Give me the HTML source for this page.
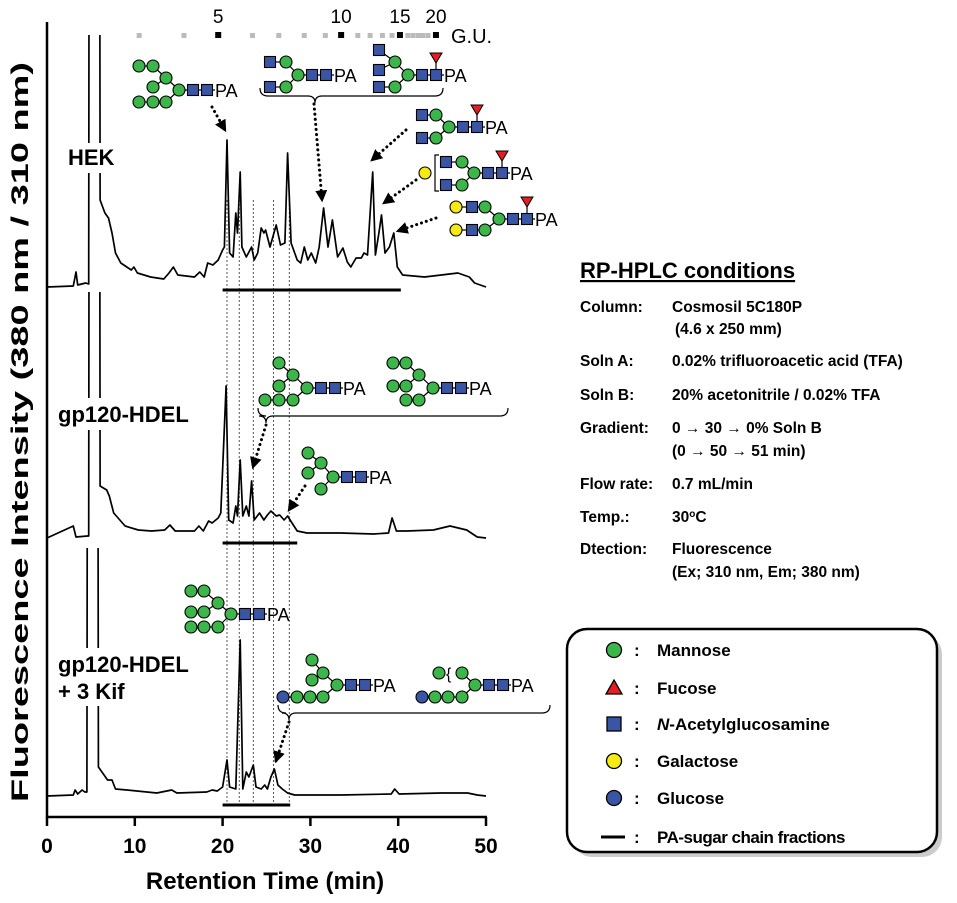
<!DOCTYPE html>
<html><head><meta charset="utf-8"><style>
body{margin:0;background:#fff}
svg{display:block;font-family:"Liberation Sans",sans-serif}
.b{font-weight:bold}
</style></head><body>
<svg id="fig" width="957" height="903" viewBox="0 0 957 903">
<defs>
<marker id="ah" viewBox="0 0 10 10" refX="8" refY="5" markerWidth="4" markerHeight="4" orient="auto"><path d="M0,0L10,5L0,10z" fill="#000"/></marker>
<clipPath id="c0"><rect x="40" y="35" width="460" height="270"/></clipPath>
<clipPath id="c1"><rect x="40" y="292" width="460" height="260"/></clipPath>
<clipPath id="c2"><rect x="40" y="548" width="460" height="260"/></clipPath>
</defs>
<g id="traces"></g>
<g id="glycans"></g>
<g id="axes">
<line x1="47" y1="22" x2="47" y2="818" stroke="#000" stroke-width="2.5"/>
<line x1="46" y1="817" x2="487" y2="817" stroke="#000" stroke-width="2.5"/>
</g>
<text class="b" font-size="24" transform="translate(28,432) rotate(-90)" text-anchor="middle" textLength="740" lengthAdjust="spacingAndGlyphs">Fluorescence Intensity (380 nm / 310 nm)</text>
<text class="b" font-size="24" x="265" y="889" text-anchor="middle">Retention Time (min)</text>
<text font-size="20" x="451" y="43">G.U.</text>
<g><rect x="66" y="143" width="60" height="30" fill="#fff"/><text class="b" font-size="22" x="68" y="165">HEK</text></g>
<g><rect x="56" y="398" width="150" height="32" fill="#fff"/><text class="b" font-size="22" x="58" y="422">gp120-HDEL</text></g>
<g><rect x="56" y="648" width="150" height="58" fill="#fff"/><text class="b" font-size="22" x="58" y="672">gp120-HDEL</text><text class="b" font-size="22" x="58" y="699">+ 3 Kif</text></g>
<g class="b" font-size="15.5">
<text x="580" y="278" font-size="22" text-decoration="underline">RP-HPLC conditions</text>
<text x="580" y="312">Column:</text><text x="672" y="312">Cosmosil 5C180P</text>
<text x="675" y="334">(4.6 x 250 mm)</text>
<text x="580" y="366">Soln A:</text><text x="672" y="366">0.02% trifluoroacetic acid (TFA)</text>
<text x="580" y="400">Soln B:</text><text x="672" y="400">20% acetonitrile / 0.02% TFA</text>
<text x="580" y="433">Gradient:</text><text x="672" y="433">0 → 30 → 0% Soln B</text>
<text x="672" y="456">(0 → 50 → 51 min)</text>
<text x="580" y="489">Flow rate:</text><text x="672" y="489">0.7 mL/min</text>
<text x="580" y="522">Temp.:</text><text x="672" y="522">30<tspan font-size="10" dy="-5">o</tspan><tspan dy="5">C</tspan></text>
<text x="580" y="554">Dtection:</text><text x="672" y="554">Fluorescence</text>
<text x="672" y="577">(Ex; 310 nm, Em; 380 nm)</text>
</g>
<g>
<rect x="572" y="634" width="370" height="223" rx="20" fill="#ccc"/>
<rect x="567" y="629" width="370" height="223" rx="20" fill="#fff" stroke="#000" stroke-width="2.5"/>
<g class="b" font-size="17">
<g><circle cx="614" cy="650" r="7.5" fill="#3cb54a" stroke="#000" stroke-width="1.3"/><text x="634" y="656">:</text><text x="657" y="656">Mannose</text></g>
<g><path d="M614,680L622,694L606,694z" fill="#e31e24" stroke="#000" stroke-width="1.3"/><text x="634" y="694">:</text><text x="657" y="694">Fucose</text></g>
<g><rect x="607" y="717" width="14" height="14" fill="#3a55a4" stroke="#000" stroke-width="1.3"/><text x="634" y="730">:</text><text x="657" y="730"><tspan font-style="italic">N</tspan>-Acetylglucosamine</text></g>
<g><circle cx="614" cy="761" r="7.5" fill="#f5ea14" stroke="#000" stroke-width="1.3"/><text x="634" y="767">:</text><text x="657" y="767">Galactose</text></g>
<g><circle cx="614" cy="798" r="7.5" fill="#3a55a4" stroke="#000" stroke-width="1.3"/><text x="634" y="804">:</text><text x="657" y="804">Glucose</text></g>
<g><line x1="601" y1="837" x2="625" y2="837" stroke="#000" stroke-width="3"/><text x="634" y="843">:</text><text x="657" y="843" letter-spacing="-0.5">PA-sugar chain fractions</text></g>
</g>
</g>
</svg>
<script>
// ---- data ----
const xTicks = [0, 10, 20, 30, 40, 50];
const hekT = [0,3.0,3.3,3.5,4.4,4.75,4.8,6.0,6.05,6.6,7.0,7.4,7.8,8.4,9.6,9.9,10.3,11.8,13.3,13.9,14.4,14.9,16.8,17.4,17.9,18.3,18.9,19.5,20.0,20.2,20.5,20.8,21.2,21.5,21.7,22.0,22.2,22.7,23.3,23.6,24.0,24.4,24.7,24.9,25.4,26.1,26.6,27.1,27.4,27.8,28.5,28.9,29.3,29.7,30.1,30.6,31.0,31.5,32.0,32.5,33.1,33.7,34.2,34.6,35.2,35.8,36.1,36.5,37.1,37.4,37.8,38.1,38.5,39.0,39.5,39.9,40.5,43.0,46.8,48.1,48.7,50];
const hekH = [0,1,15,2,4,3,400,400,87,74,69,54,34,24,17,20,14,10,8,14,20,12,10,15,10,24,22,27,37,40,147,34,30,74,54,115,40,30,40,27,34,59,54,57,40,62,42,44,134,44,27,24,40,27,34,24,40,79,40,67,30,39,25,20,29,29,34,32,115,32,54,72,34,40,54,20,12,10,14,10,4,0];
const gpT = [0,3.0,3.3,4.6,4.75,4.8,6.0,6.05,6.8,7.1,7.6,8.9,10.4,11.9,13.4,14.0,14.6,16.8,17.3,17.8,18.4,18.8,19.5,19.8,20.4,20.7,21.2,21.5,21.7,22.0,22.3,22.7,23.0,23.3,23.6,24.2,24.7,25.1,25.5,26.1,26.5,27.0,27.4,27.9,28.5,29.6,33.4,37.2,38.9,39.3,39.8,41.0,44.0,45.9,47.8,49.0,50];
const gpH = [0,12,1,2,2,400,400,52,48,42,25,12,8,7,8,13,7,7,12,7,17,15,20,25,152,18,15,32,22,78,22,32,22,57,18,25,18,23,27,22,23,18,22,15,7,5,5,4,5,20,7,7,8,12,8,1,0];
const kifT = [0,3.0,3.2,3.5,4.0,4.3,4.55,4.6,5.8,5.85,6.9,7.4,7.8,9.1,12.5,14.2,14.8,18.2,18.8,19.4,20.0,20.5,20.8,21.5,22.0,22.3,22.7,23.0,23.5,23.8,24.4,24.8,25.1,25.5,25.9,26.3,26.8,27.4,28.2,33.5,39.2,39.6,40.1,44.9,47.9,49.0,50];
const kifH = [0,1,6,2,6,4,4,400,400,29,16,16,7,6,3,6,3,4,6,5,9,36,9,7,156,7,24,19,31,9,7,11,7,19,27,11,7,3,1,1,2,7,2,3,3,1,0];
const fractionStart = [20, 20, 20];
const fractionEnd = [40.3, 28.5, 27.7];
const dividerTimes = [20.5, 21.9, 23.5, 25.8, 27.6];
const guLabels = ['5', '10', '15', '20'];
const guMajorTimes = [19.5, 33.5, 40.2, 44.3];
const guMinorTimes = [10.5, 15.6, 23.4, 26.4, 29.3, 31.7, 35.4, 36.8, 38.2, 39.3, 41.1, 41.7, 42.3, 42.8, 43.4];

const NS = 'http://www.w3.org/2000/svg';
const X0 = 47, X1 = 486;
function xs(t){ return X0 + (X1 - X0) * t / 50; }
function mk(tag, attrs, parent){ const e = document.createElementNS(NS, tag); for (const k in attrs) e.setAttribute(k, attrs[k]); parent.appendChild(e); return e; }

const tr = document.getElementById('traces');
const axes = document.getElementById('axes');
const panels = [
  {T: hekT, H: hekH, base: 287, clip: 'c0', bar: 290, name: 'hek-trace'},
  {T: gpT, H: gpH, base: 538, clip: 'c1', bar: 543, name: 'gp120-trace'},
  {T: kifT, H: kifH, base: 796, clip: 'c2', bar: 805, name: 'kif-trace'}
];
dividerTimes.forEach(t => {
  const l = mk('line', {x1: xs(t), y1: 200, x2: xs(t), y2: 805, stroke: '#555', 'stroke-width': 1, 'stroke-dasharray': '2 2'}, tr);
  
  
});
panels.forEach((p, i) => {
  let d = '';
  p.T.forEach((t, j) => { d += (j ? 'L' : 'M') + xs(t).toFixed(1) + ',' + (p.base - p.H[j]).toFixed(1); });
  const path = mk('path', {d: d, fill: 'none', stroke: '#000', 'stroke-width': 1.7, 'stroke-linejoin': 'round', 'clip-path': 'url(#' + p.clip + ')'}, tr);
  
  
  const bar = mk('line', {x1: xs(fractionStart[i]), y1: p.bar, x2: xs(fractionEnd[i]), y2: p.bar, stroke: '#000', 'stroke-width': 3}, tr);
  
  
});
xTicks.forEach(v => {
  mk('line', {x1: xs(v), y1: 817, x2: xs(v), y2: 826, stroke: '#000', 'stroke-width': 2.5}, axes);
  const t = mk('text', {x: xs(v), y: 853, 'text-anchor': 'middle', 'font-size': 21, 'font-weight': 'bold'}, axes);
  t.textContent = v;
  
  
});
const fig = document.getElementById('fig');
guMinorTimes.forEach(t => {
  const r = mk('rect', {x: xs(t) - 2.5, y: 33, width: 5, height: 5, fill: '#bbb'}, fig);
  
  
});
guMajorTimes.forEach((t, i) => {
  const r = mk('rect', {x: xs(t) - 3, y: 32, width: 6, height: 6, fill: '#000'}, fig);
  
  
  const tx = mk('text', {x: xs(t), y: 23, 'text-anchor': 'middle', 'font-size': 19}, fig);
  tx.textContent = guLabels[i];
  
  
});

// ---- glycans ----
const gl = document.getElementById('glycans');
const COL = {M: '#3cb54a', G: '#3a55a4', L: '#f5ea14', C: '#3a55a4'};
function glycan(ox, oy, nodes, fuc, name){
  const g = mk('g', {}, gl);
  
  
  const all = [['M', 0, 0, -1]].concat(nodes);
  all.forEach(n => { if (n[3] >= 0) { const p = all[n[3]]; mk('line', {x1: ox + p[1], y1: oy + p[2], x2: ox + n[1], y2: oy + n[2], stroke: '#000', 'stroke-width': 1.2}, g); } });
  mk('line', {x1: ox, y1: oy, x2: ox + 36, y2: oy, stroke: '#000', 'stroke-width': 1.2}, g);
  if (fuc) { mk('line', {x1: ox + 28, y1: oy, x2: ox + 28, y2: oy - 16, stroke: '#000', 'stroke-width': 1.2}, g); mk('path', {d: `M${ox+22},${oy-22}L${ox+34},${oy-22}L${ox+28},${oy-12}z`, fill: '#e31e24', stroke: '#000', 'stroke-width': 1}, g); }
  [14, 28].forEach(dx => mk('rect', {x: ox + dx - 5.5, y: oy - 5.5, width: 11, height: 11, fill: '#3a55a4', stroke: '#000', 'stroke-width': 1.1}, g));
  all.forEach(n => {
    if (n[0] === 'G') mk('rect', {x: ox + n[1] - 5.5, y: oy + n[2] - 5.5, width: 11, height: 11, fill: COL.G, stroke: '#000', 'stroke-width': 1.1}, g);
    else mk('circle', {cx: ox + n[1], cy: oy + n[2], r: 6, fill: COL[n[0]], stroke: '#000', 'stroke-width': 1.1}, g);
  });
  const t = mk('text', {x: ox + 36, y: oy + 7, 'font-size': 18}, g);
  t.textContent = 'PA';
  return g;
}
const man9a = [['M',-13,-12,0],['M',-26,-24,1],['M',-40,-24,2],['M',-26,-3,1],['M',-13,12,0],['M',-26,12,5],['M',-40,12,6]];
glycan(179, 90, man9a, false, 'glycan-hek-man');
glycan(298, 75, [['M',-12,-13,0],['G',-28,-13,1],['M',-12,12,0],['G',-28,12,3]], false, 'glycan-hek-biant');
glycan(408, 75, [['M',-13,-13,0],['G',-29,-25,1],['G',-29,-5,1],['M',-13,12,0],['G',-29,12,4]], true, 'glycan-hek-triant');
glycan(449, 127, [['M',-13,-12,0],['G',-27,-12,1],['M',-13,11,0],['G',-27,11,3]], true, 'glycan-hek-biant-fuc');
const g5 = glycan(474, 173, [['M',-12,-11,0],['G',-28,-11,1],['M',-12,12,0],['G',-28,12,3]], true, 'glycan-hek-gal1');
mk('circle', {cx: 425, cy: 173, r: 6, fill: COL.L, stroke: '#000', 'stroke-width': 1.1}, g5);
mk('path', {d: 'M439,155L435,155L435,191L439,191', fill: 'none', stroke: '#000', 'stroke-width': 1.2}, g5);
glycan(499, 219, [['M',-14,-12,0],['G',-27,-12,1],['L',-43,-12,2],['M',-14,11,0],['G',-27,11,4],['L',-43,11,5]], true, 'glycan-hek-gal2');
glycan(307, 388, [['M',-14,-13,0],['M',-28,-25,1],['M',-28,-2,1],['M',-14,12,0],['M',-28,12,4],['M',-42,12,5]], false, 'glycan-gp-man8a');
glycan(433, 388, [['M',-14,-13,0],['M',-27,-25,1],['M',-40,-25,2],['M',-27,-2,1],['M',-40,-2,4],['M',-14,12,0],['M',-27,12,6]], false, 'glycan-gp-man8b');
glycan(333, 477, [['M',-12,-14,0],['M',-25,-24,1],['M',-25,-4,1],['M',-12,12,0]], false, 'glycan-gp-man5');
glycan(231, 614, [['M',-13,-11,0],['M',-27,-23,1],['M',-40,-23,2],['M',-27,-2,1],['M',-40,-2,4],['M',-13,13,0],['M',-27,13,6],['M',-40,13,7]], false, 'glycan-kif-man9');
glycan(337, 685, [['M',-14,-12,0],['M',-25,-25,1],['M',-25,-5,1],['M',-14,12,0],['M',-27,12,4],['M',-40,12,5],['C',-54,12,6]], false, 'glycan-kif-glc1');
const k3 = glycan(475, 685, [['M',-13,-12,0],['M',-13,12,0],['M',-27,12,2],['M',-40,12,3],['C',-53,12,4]], false, 'glycan-kif-glc2');
mk('circle', {cx: 439, cy: 673, r: 6, fill: COL.M, stroke: '#000', 'stroke-width': 1.1}, k3);
const br = mk('text', {x: 446, y: 679, 'font-size': 16}, k3); br.textContent = '{';

function brace(x1, x2, px, y, name){
  const p = mk('path', {d: `M${x1},${y-8}Q${x1},${y} ${x1+8},${y}L${px-7},${y}Q${px},${y} ${px},${y+7}Q${px},${y} ${px+7},${y}L${x2-8},${y}Q${x2},${y} ${x2},${y-8}`, fill: 'none', stroke: '#000', 'stroke-width': 1.2}, gl);
  
  
}
brace(260, 443, 315, 96, 'brace-hek');
brace(258, 508, 266, 416, 'brace-gp');
brace(278, 550, 289, 713, 'brace-kif');
function arrow(x1, y1, x2, y2, name){
  const a = mk('line', {x1, y1, x2, y2, stroke: '#000', 'stroke-width': 3, 'stroke-dasharray': '0.1 5', 'stroke-linecap': 'round', 'marker-end': 'url(#ah)'}, gl);
  
  
}
arrow(212, 107, 225, 130, 'arrow-hek-man');
arrow(314, 104, 322, 200, 'arrow-hek-biant');
arrow(406, 130, 372, 160, 'arrow-hek-biant-fuc');
arrow(416, 180, 384, 203, 'arrow-hek-gal1');
arrow(436, 218, 398, 231, 'arrow-hek-gal2');
arrow(266, 425, 253, 467, 'arrow-gp-man8');
arrow(305, 486, 289, 510, 'arrow-gp-man5');
arrow(289, 722, 276, 761, 'arrow-kif');
</script>
</body></html>
